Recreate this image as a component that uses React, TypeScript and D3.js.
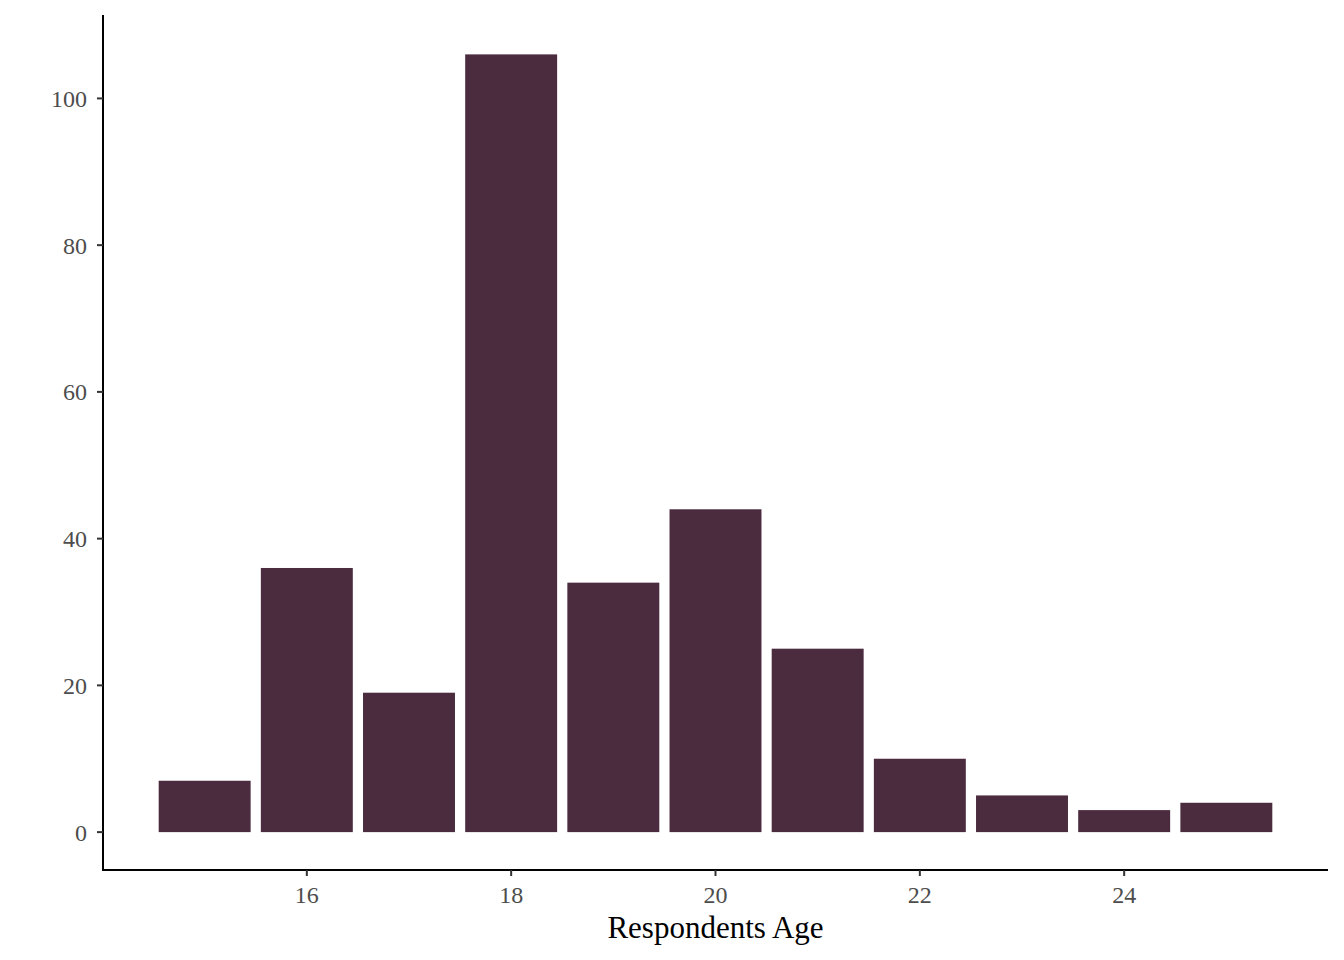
import React from "react";
import * as d3 from "d3";

const ages = [15, 16, 17, 18, 19, 20, 21, 22, 23, 24, 25];
const counts = [7, 36, 19, 106, 34, 44, 25, 10, 5, 3, 4];
const xTicks = [16, 18, 20, 22, 24];
const yTicks = [0, 20, 40, 60, 80, 100];
const xLabel = "Respondents Age";

const W = 1344;
const H = 960;
const left = 103;
const right = 1328;
const top = 15.5;
const bottom = 871;
const barColor = "#4B2C3F";
const font = "'Liberation Serif', 'Times New Roman', serif";

export default function App() {
  const xmin = 14.55, xmax = 25.45;
  const xpad = (xmax - xmin) * 0.05;
  const x = d3.scaleLinear().domain([xmin - xpad, xmax + xpad]).range([left, right]);
  const ymax = d3.max(counts) as number;
  const ypad = ymax * 0.05;
  const y = d3.scaleLinear().domain([-ypad, ymax + ypad]).range([bottom, top]);
  const bw = x(0.9) - x(0);
  const axisY = 870;

  return (
    <svg width={W} height={H} style={{ position: "absolute", left: 0, top: 0 }}>
      <rect width={W} height={H} fill="#fff" />
      {ages.map((a, i) => (
        <rect
          key={a}
          x={x(a) - bw / 2}
          y={y(counts[i])}
          width={bw}
          height={y(0) - y(counts[i])}
          fill={barColor}
        />
      ))}
      <line x1={left} x2={left} y1={15} y2={axisY + 1} stroke="#000" strokeWidth={2} />
      <line x1={left - 1} x2={right} y1={axisY} y2={axisY} stroke="#000" strokeWidth={2} />
      {yTicks.map((t) => (
        <g key={t}>
          <line x1={left - 6} x2={left} y1={y(t)} y2={y(t)} stroke="#333" strokeWidth={2} />
          <text
            x={left - 16}
            y={y(t)}
            dy="0.35em"
            textAnchor="end"
            fontFamily={font}
            fontSize={24}
            fill="#4D4D4D"
          >
            {t}
          </text>
        </g>
      ))}
      {xTicks.map((t) => (
        <g key={t}>
          <line x1={x(t)} x2={x(t)} y1={axisY} y2={axisY + 6} stroke="#333" strokeWidth={2} />
          <text
            x={x(t)}
            y={903}
            textAnchor="middle"
            fontFamily={font}
            fontSize={24}
            fill="#4D4D4D"
          >
            {t}
          </text>
        </g>
      ))}
      <text
        x={(left + right) / 2}
        y={938}
        textAnchor="middle"
        fontFamily={font}
        fontSize={31}
        fill="#000"
      >
        {xLabel}
      </text>
    </svg>
  );
}
